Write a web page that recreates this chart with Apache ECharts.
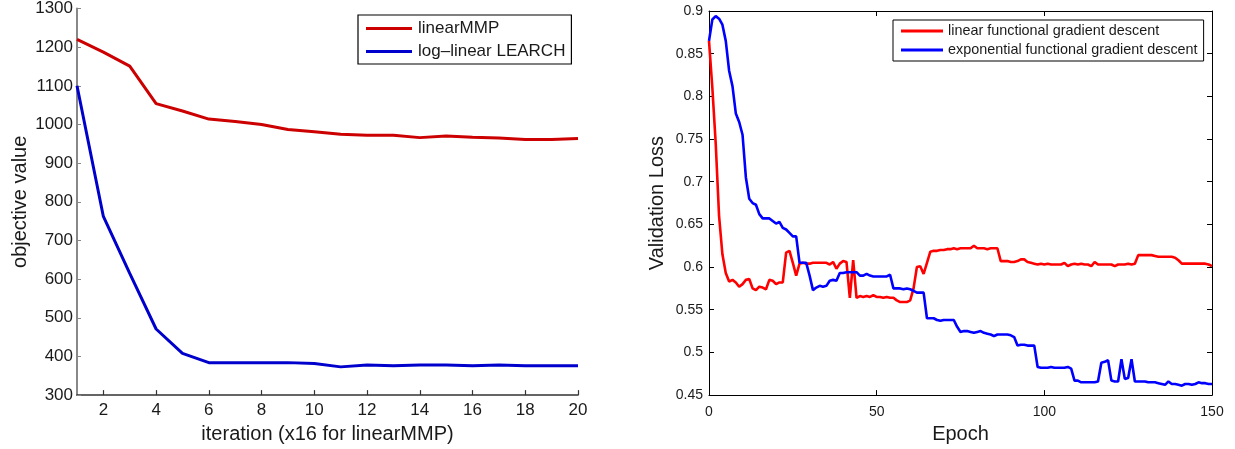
<!DOCTYPE html>
<html>
<head>
<meta charset="utf-8">
<script src="https://cdn.jsdelivr.net/npm/echarts@6/dist/echarts.min.js"></script>
<style>
  html, body { margin: 0; padding: 0; background: #ffffff; }
  #chart { width: 1235px; height: 449px; }
</style>
</head>
<body>
<div id="chart"></div>
<script>
// ---- Left panel: objective value per iteration ----
const iterations = [1, 2, 3, 4, 5, 6, 7, 8, 9, 10, 11, 12, 13, 14, 15, 16, 17, 18, 19, 20];
const linearMMP = [1220, 1187, 1151, 1054, 1035, 1014, 1008, 1000, 987, 981,
                   975, 972, 972, 966, 970, 967, 965, 961, 961, 964];
const logLinearLEARCH = [1100, 762, 615, 471, 408, 384, 384, 384, 384, 382,
                         373, 378, 376, 378, 378, 376, 378, 376, 376, 376];
const iterationTicks = [2, 4, 6, 8, 10, 12, 14, 16, 18, 20];

// ---- Right panel: validation loss per epoch (0..150) ----
const epochs = Array.from({ length: 151 }, (_, i) => i);
const linearFGD = [
  0.865, 0.810, 0.745, 0.660, 0.615, 0.593, 0.583, 0.585, 0.582, 0.577,
  0.580, 0.585, 0.586, 0.575, 0.573, 0.577, 0.576, 0.574, 0.585, 0.584,
  0.580, 0.582, 0.582, 0.617, 0.619, 0.605, 0.590, 0.604, 0.605, 0.604,
  0.604, 0.605, 0.605, 0.605, 0.605, 0.605, 0.603, 0.606, 0.598, 0.604,
  0.607, 0.606, 0.564, 0.608, 0.564, 0.566, 0.565, 0.566, 0.565, 0.567,
  0.565, 0.565, 0.564, 0.565, 0.564, 0.564, 0.561, 0.559, 0.559, 0.559,
  0.561, 0.575, 0.600, 0.601, 0.592, 0.605, 0.618, 0.619, 0.619, 0.620,
  0.620, 0.621, 0.621, 0.622, 0.621, 0.622, 0.622, 0.622, 0.622, 0.625,
  0.622, 0.622, 0.622, 0.621, 0.622, 0.622, 0.622, 0.607, 0.607, 0.607,
  0.606, 0.606, 0.607, 0.609, 0.609, 0.606, 0.605, 0.604, 0.603, 0.604,
  0.603, 0.604, 0.603, 0.603, 0.603, 0.603, 0.605, 0.601, 0.603, 0.604,
  0.603, 0.604, 0.603, 0.603, 0.601, 0.606, 0.603, 0.603, 0.603, 0.603,
  0.603, 0.601, 0.603, 0.603, 0.603, 0.604, 0.603, 0.604, 0.614, 0.614,
  0.614, 0.614, 0.614, 0.613, 0.612, 0.612, 0.612, 0.612, 0.612, 0.611,
  0.608, 0.604, 0.604, 0.604, 0.604, 0.604, 0.604, 0.604, 0.604, 0.603,
  0.601
];
const exponentialFGD = [
  0.865, 0.890, 0.894, 0.891, 0.884, 0.865, 0.830, 0.812, 0.780, 0.770,
  0.755, 0.705, 0.680, 0.675, 0.673, 0.662, 0.657, 0.657, 0.657, 0.654,
  0.651, 0.653, 0.646, 0.644, 0.640, 0.636, 0.636, 0.605, 0.605, 0.605,
  0.590, 0.573, 0.576, 0.578, 0.577, 0.578, 0.584, 0.585, 0.584, 0.593,
  0.593, 0.594, 0.594, 0.594, 0.594, 0.590, 0.590, 0.592, 0.590, 0.589,
  0.589, 0.589, 0.589, 0.589, 0.591, 0.575, 0.575, 0.575, 0.574, 0.575,
  0.574, 0.572, 0.570, 0.570, 0.570, 0.540, 0.540, 0.540, 0.538, 0.537,
  0.538, 0.538, 0.538, 0.538, 0.530, 0.524, 0.525, 0.525, 0.524, 0.523,
  0.524, 0.525, 0.523, 0.522, 0.521, 0.519, 0.521, 0.521, 0.521, 0.521,
  0.520, 0.518, 0.508, 0.509, 0.509, 0.508, 0.508, 0.508, 0.483, 0.482,
  0.482, 0.482, 0.483, 0.482, 0.482, 0.482, 0.482, 0.483, 0.481, 0.467,
  0.467, 0.465, 0.465, 0.465, 0.465, 0.465, 0.466, 0.488, 0.489, 0.491,
  0.467, 0.466, 0.466, 0.492, 0.469, 0.470, 0.492, 0.466, 0.466, 0.466,
  0.466, 0.465, 0.465, 0.465, 0.464, 0.463, 0.462, 0.466, 0.463, 0.463,
  0.462, 0.461, 0.463, 0.463, 0.462, 0.463, 0.465, 0.464, 0.464, 0.463,
  0.463
];

const FONT = "'Liberation Sans', Arial, Helvetica, sans-serif";
const TEXT = '#1a1a1a';

const pairs = (xs, ys) => xs.map((x, i) => [x, ys[i]]);

const chart = echarts.init(document.getElementById('chart'), null, { renderer: 'canvas' });

// One side of the right panel's box: inward ticks, no labels
const frameAxis = (extra) => Object.assign({
  axisLine: { show: true, onZero: false, lineStyle: { color: '#000', width: 1 } },
  axisTick: { show: true, inside: true, length: 5, lineStyle: { color: '#000', width: 1 } },
  axisLabel: { show: false },
  splitLine: { show: false }
}, extra);

chart.setOption({
  animation: false,
  backgroundColor: '#ffffff',
  textStyle: { fontFamily: FONT, color: TEXT },
  grid: [
    { left: 77, right: 657, top: 7, bottom: 46, containLabel: false },
    { left: 709, right: 23, top: 11, bottom: 49, containLabel: false }
  ],
  legend: [
    {
      orient: 'vertical',
      left: 358, top: 15,
      padding: [5, 6, 4, 8],
      itemGap: 6,
      icon: 'rect',
      itemWidth: 46, itemHeight: 3,
      borderColor: '#000', borderWidth: 1.2, borderRadius: 0,
      backgroundColor: '#fff',
      textStyle: { fontFamily: FONT, fontSize: 17, color: TEXT, padding: [0, 0, 0, 1] },
      data: ['linearMMP', 'log\u2013linear LEARCH']
    },
    {
      orient: 'vertical',
      left: 893, top: 20,
      padding: [4, 6, 4, 8],
      itemGap: 5,
      icon: 'rect',
      itemWidth: 42, itemHeight: 3,
      borderColor: '#000', borderWidth: 1, borderRadius: 0,
      backgroundColor: '#fff',
      textStyle: { fontFamily: FONT, fontSize: 14.4, color: TEXT },
      data: ['linear functional gradient descent', 'exponential functional gradient descent']
    }
  ],
  xAxis: [
    {
      gridIndex: 0, type: 'value', min: 1, max: 20,
      name: 'iteration (x16 for linearMMP)', nameLocation: 'middle', nameGap: 24,
      nameTextStyle: { fontFamily: FONT, fontSize: 20, color: TEXT },
      axisLine: { show: true, onZero: false, lineStyle: { color: '#333', width: 1.5 } },
      axisTick: { show: true, inside: true, length: 5, customValues: iterationTicks,
                  lineStyle: { color: '#333', width: 1.2 } },
      axisLabel: { show: true, margin: 7, fontSize: 17, fontFamily: FONT, color: TEXT,
                   customValues: iterationTicks },
      splitLine: { show: false }
    },
    {
      gridIndex: 1, type: 'value', min: 0, max: 150, interval: 50,
      name: 'Epoch', nameLocation: 'middle', nameGap: 27,
      nameTextStyle: { fontFamily: FONT, fontSize: 20, color: TEXT },
      axisLine: { show: true, onZero: false, lineStyle: { color: '#000', width: 1 } },
      axisTick: { show: true, inside: true, length: 5, lineStyle: { color: '#000', width: 1 } },
      axisLabel: { show: true, margin: 10, fontSize: 14, fontFamily: FONT, color: TEXT },
      splitLine: { show: false }
    },
    frameAxis({ gridIndex: 1, type: 'value', position: 'top', min: 0, max: 150, interval: 50 })
  ],
  yAxis: [
    {
      gridIndex: 0, type: 'value', min: 300, max: 1300, interval: 100,
      name: 'objective value', nameLocation: 'middle', nameGap: 47,
      nameTextStyle: { fontFamily: FONT, fontSize: 20, color: TEXT },
      axisLine: { show: true, onZero: false, lineStyle: { color: '#888', width: 2 } },
      axisTick: { show: true, inside: true, length: 4, lineStyle: { color: '#888', width: 1 } },
      axisLabel: { show: true, margin: 4, fontSize: 17, fontFamily: FONT, color: TEXT,
                   formatter: (v) => String(v) },
      splitLine: { show: false }
    },
    {
      gridIndex: 1, type: 'value', min: 0.45, max: 0.9, interval: 0.05,
      name: 'Validation Loss', nameLocation: 'middle', nameGap: 42,
      nameTextStyle: { fontFamily: FONT, fontSize: 20, color: TEXT },
      axisLine: { show: true, onZero: false, lineStyle: { color: '#000', width: 1 } },
      axisTick: { show: true, inside: true, length: 5, lineStyle: { color: '#000', width: 1 } },
      axisLabel: { show: true, margin: 6, fontSize: 14, fontFamily: FONT, color: TEXT,
                   formatter: (v) => String(Math.round(v * 100) / 100) },
      splitLine: { show: false }
    },
    frameAxis({ gridIndex: 1, type: 'value', position: 'right', min: 0.45, max: 0.9, interval: 0.05 })
  ],
  series: [
    {
      name: 'linearMMP', type: 'line', xAxisIndex: 0, yAxisIndex: 0,
      data: pairs(iterations, linearMMP),
      symbol: 'none', color: '#cc0000',
      lineStyle: { color: '#cc0000', width: 3 }
    },
    {
      name: 'log\u2013linear LEARCH', type: 'line', xAxisIndex: 0, yAxisIndex: 0,
      data: pairs(iterations, logLinearLEARCH),
      symbol: 'none', color: '#0000cc',
      lineStyle: { color: '#0000cc', width: 3 }
    },
    {
      name: 'linear functional gradient descent', type: 'line', xAxisIndex: 1, yAxisIndex: 1,
      data: pairs(epochs, linearFGD),
      symbol: 'none', color: '#ff0000',
      lineStyle: { color: '#ff0000', width: 2.6 }
    },
    {
      name: 'exponential functional gradient descent', type: 'line', xAxisIndex: 1, yAxisIndex: 1,
      data: pairs(epochs, exponentialFGD),
      symbol: 'none', color: '#0000ff',
      lineStyle: { color: '#0000ff', width: 2.6 }
    }
  ]
});
</script>
</body>
</html>
